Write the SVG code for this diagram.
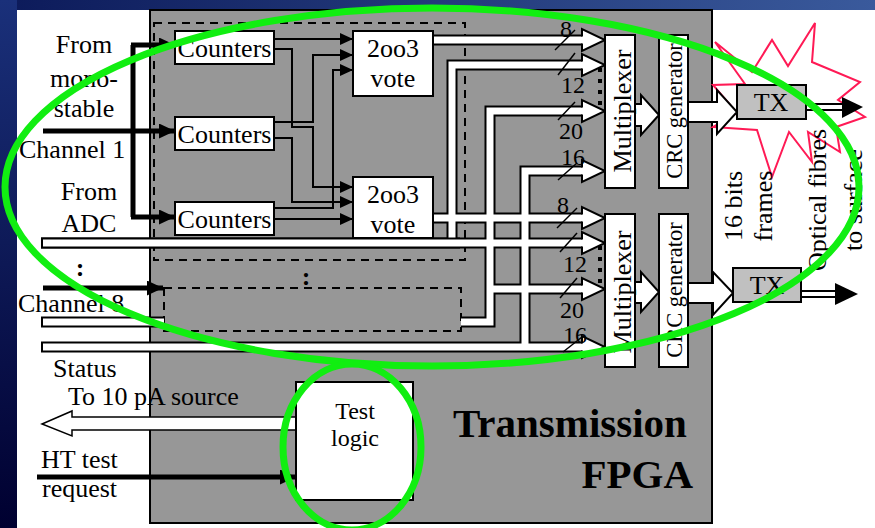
<svg xmlns="http://www.w3.org/2000/svg" width="875" height="528" viewBox="0 0 875 528">
<defs>
<linearGradient id="gTop" x1="0" y1="0" x2="1" y2="0"><stop offset="0" stop-color="#0c1a5a"/><stop offset="1" stop-color="#3a5a9c"/></linearGradient>
<linearGradient id="gLeft" x1="0" y1="0" x2="0" y2="1"><stop offset="0" stop-color="#1a307a"/><stop offset="1" stop-color="#000030"/></linearGradient>
<marker id="ah" markerUnits="userSpaceOnUse" markerWidth="13" markerHeight="12" refX="13" refY="6" orient="auto"><path d="M0,0 L13,6 L0,12 z" fill="#000"/></marker>
<marker id="ahb" markerUnits="userSpaceOnUse" markerWidth="16" markerHeight="15" refX="16" refY="7.5" orient="auto"><path d="M0,0 L16,7.5 L0,15 z" fill="#000"/></marker>
</defs>
<style>
text{font-family:"Liberation Serif","Times New Roman",serif;fill:#000}
.t26{font-size:26px}
.t24{font-size:24px}
.t22{font-size:22.5px}
.mid{text-anchor:middle}
.box{fill:#fff;stroke:#000;stroke-width:2}
.dash{fill:none;stroke:#000;stroke-width:2;stroke-dasharray:8,6}
.thin{fill:none;stroke:#000;stroke-width:2;marker-end:url(#ah)}
.thick{fill:none;stroke:#000;stroke-width:5;marker-end:url(#ahb)}
.busO{fill:none;stroke:#000;stroke-width:11;stroke-linejoin:miter}
.busI{fill:none;stroke:#fff;stroke-width:7;stroke-linejoin:miter}
.head{fill:#fff;stroke:#000;stroke-width:2;stroke-linejoin:miter}
.slash{stroke:#000;stroke-width:1.5}
.green{fill:none;stroke:#11ee11;stroke-width:7}
</style>
<rect x="0" y="0" width="875" height="528" fill="#fff"/>
<rect x="0" y="0" width="875" height="10" fill="url(#gTop)"/>
<rect x="0" y="0" width="17" height="528" fill="url(#gLeft)"/>

<g id="fpga">
<rect x="150" y="10" width="562" height="513" fill="#979797" stroke="#000" stroke-width="2"/>
<text x="453" y="437" style="font-size:41px;font-weight:bold">Transmission</text>
<text x="693" y="488" style="font-size:41px;font-weight:bold;text-anchor:end">FPGA</text>
</g>

<g id="channel1-group"><rect class="dash" x="154" y="23" width="311" height="237"/></g>
<g id="channel8-group"><rect class="dash" x="164" y="288" width="297" height="43"/>
<text x="306" y="285" class="t26 mid" style="font-weight:bold">:</text></g>

<g id="starburst">
<polygon points="715,42 752,72 772,40 788,66 815,23 812,62 860,82 838,100 865,117 836,127 840,152 808,132 812,162 789,132 772,177 757,130 713,127 737,113 713,85 745,84" fill="#fff" stroke="#ff1a55" stroke-width="2"/>
</g>

<g id="labels-left">
<text x="84" y="53" class="t26 mid">From</text>
<text x="84" y="87" class="t26 mid">mono-</text>
<text x="84" y="117" class="t26 mid">stable</text>
<text x="19" y="158" class="t26">Channel 1</text>
<text x="89" y="200" class="t26 mid">From</text>
<text x="89" y="232" class="t26 mid">ADC</text>
<text x="80" y="276" class="t26 mid" style="font-weight:bold">:</text>
<text x="18" y="312" class="t26">Channel 8</text>
<text x="53" y="377" class="t26">Status</text>
<text x="68" y="405" class="t26">To 10 pA source</text>
<text x="41" y="468" class="t26">HT test</text>
<text x="42" y="497" class="t26">request</text>
</g>

<g id="connectors">
<path class="thick" d="M43,131 H175"/>
<path d="M133,217 V45" fill="none" stroke="#000" stroke-width="5"/>
<path class="thick" d="M131,45 H175"/>
<path class="thick" d="M131,217 H175"/>
<path class="thick" d="M43,288 H163"/>
<path class="thick" d="M37,477 H296"/>
<path class="thin" d="M274,39 H353"/>
<path class="thin" d="M274,49 H292 V127 H313 V187 H353"/>
<path class="thin" d="M274,122 H313 V55 H353"/>
<path class="thin" d="M274,138 H292 V202 H353"/>
<path class="thin" d="M274,208 H333 V70 H353"/>
<path class="thin" d="M274,219 H353"/>
<path class="busO" d="M433,40 H582"/>
<path class="busO" d="M433,218 H582"/>
<path class="busO" d="M41,243 H582 M452,243 V65 H582"/>
<path class="busO" d="M461,322 H490 V111 H582 M490,289 H582"/>
<path class="busO" d="M41,347 H582 M525,347 V171 H582"/>
<path class="busO" d="M41,322 H164"/>
<path class="busI" d="M433,40 H582"/>
<path class="busI" d="M433,218 H582"/>
<path class="busI" d="M43,243 H582 M452,243 V65 H582"/>
<path class="busI" d="M461,322 H490 V111 H582 M490,289 H582"/>
<path class="busI" d="M43,347 H582 M525,347 V171 H582"/>
<path class="busI" d="M43,322 H164"/>
<path class="head" d="M582,36.5 L582,29 L605,40 L582,51 L582,43.5"/>
<path class="head" d="M582,61.5 L582,54 L605,65 L582,76 L582,68.5"/>
<path class="head" d="M582,107.5 L582,100 L605,111 L582,122 L582,114.5"/>
<path class="head" d="M582,167.5 L582,160 L605,171 L582,182 L582,174.5"/>
<path class="head" d="M582,214.5 L582,207 L605,218 L582,229 L582,221.5"/>
<path class="head" d="M582,239.5 L582,232 L605,243 L582,254 L582,246.5"/>
<path class="head" d="M582,285.5 L582,278 L605,289 L582,300 L582,292.5"/>
<path class="head" d="M582,343.5 L582,336 L605,347 L582,358 L582,350.5"/>
<path d="M600,68 V106 M600,246 V284" stroke="#000" stroke-width="4" stroke-dasharray="4,7"/>
<path class="head" d="M635,104 H641 V95 L659,115 L641,135 V126 H635"/>
<path class="head" d="M635,282 H641 V272 L659,292 L641,312 V303 H635"/>
<path class="head" d="M688,102 H717 V90 L737,112 L717,134 V122 H688"/>
<path class="head" d="M688,283 H713 V272 L733,293 L713,315 V303 H688"/>
<path d="M806,104 H843 M806,110 H843" stroke="#000" stroke-width="2"/>
<path d="M842,97 L863,107 L842,118 z" fill="#000"/>
<path d="M801,291 H836 M801,297 H836" stroke="#000" stroke-width="2"/>
<path d="M835,283 L858,294 L835,305 z" fill="#000"/>
<path d="M296,417 H72 V411 L42,424 L72,436 V430 H296" fill="#fff" stroke="#000" stroke-width="1.5"/>
<g class="slash">
<line x1="555" y1="50" x2="575" y2="30"/><line x1="558" y1="75" x2="575" y2="53"/>
<line x1="558" y1="120" x2="575" y2="102"/><line x1="558" y1="180" x2="577" y2="163"/>
<line x1="557" y1="228" x2="577" y2="208"/><line x1="560" y1="252" x2="577" y2="233"/>
<line x1="560" y1="298" x2="577" y2="278"/><line x1="563" y1="352" x2="582" y2="337"/>
</g>
<text x="566" y="37" class="t24 mid">8</text>
<text x="573" y="93" class="t24 mid">12</text>
<text x="571" y="139" class="t24 mid">20</text>
<text x="573" y="165" class="t24 mid">16</text>
<text x="563" y="213" class="t24 mid">8</text>
<text x="575" y="272" class="t24 mid">12</text>
<text x="572" y="318" class="t24 mid">20</text>
<text x="575" y="343" class="t24 mid">16</text>
</g>

<g id="counters1"><rect class="box" x="175" y="31" width="99" height="33"/><text x="224.5" y="57" class="t26 mid">Counters</text></g>
<g id="counters2"><rect class="box" x="175" y="117" width="99" height="33"/><text x="224.5" y="143" class="t26 mid">Counters</text></g>
<g id="counters3"><rect class="box" x="175" y="202" width="99" height="33"/><text x="224.5" y="228" class="t26 mid">Counters</text></g>
<g id="vote1"><rect class="box" x="353" y="31" width="80" height="65"/><text x="393" y="57" class="t26 mid">2oo3</text><text x="393" y="87" class="t26 mid">vote</text></g>
<g id="vote2"><rect class="box" x="353" y="177" width="80" height="61"/><text x="393" y="203" class="t26 mid">2oo3</text><text x="393" y="233" class="t26 mid">vote</text>
<path class="busO" d="M41,243 H460"/><path class="busI" d="M43,243 H460"/></g>

<g id="mux1"><rect class="box" x="605" y="35" width="30" height="153"/><text transform="translate(631,111) rotate(-90)" class="t26 mid">Multiplexer</text></g>
<g id="mux2"><rect class="box" x="605" y="214" width="30" height="153"/><text transform="translate(631,292) rotate(-90)" class="t26 mid">Multiplexer</text></g>
<g id="crc1"><rect class="box" x="659" y="35" width="29" height="153"/><text transform="translate(682,111) rotate(-90)" class="t22 mid">CRC generator</text></g>
<g id="crc2"><rect class="box" x="659" y="214" width="29" height="153"/><text transform="translate(682,290) rotate(-90)" class="t22 mid">CRC generator</text></g>
<g id="tx1"><rect x="737" y="85" width="69" height="34" fill="#c0c0c0" stroke="#000" stroke-width="2"/><text x="771" y="111" class="t26 mid">TX</text></g>
<g id="tx2"><rect x="733" y="268" width="68" height="34" fill="#c0c0c0" stroke="#000" stroke-width="2"/><text x="767" y="294" class="t26 mid">TX</text></g>
<g id="test-logic"><rect class="box" x="296" y="382" width="117" height="118"/><text x="355" y="419" class="t24 mid">Test</text><text x="355" y="446" class="t24 mid">logic</text></g>

<g id="labels-right">
<text transform="translate(742,206) rotate(-90)" class="t26 mid">16 bits</text>
<text transform="translate(772,206) rotate(-90)" class="t26 mid">frames</text>
<text transform="translate(826,200) rotate(-90)" class="t26 mid">Optical fibres</text>
<text transform="translate(862,200) rotate(-90)" class="t26 mid">to surface</text>
</g>

<g id="highlights">
<ellipse class="green" cx="432" cy="187" rx="427" ry="179"/>
<ellipse class="green" cx="352" cy="447" rx="69" ry="83"/>
</g>
</svg>
